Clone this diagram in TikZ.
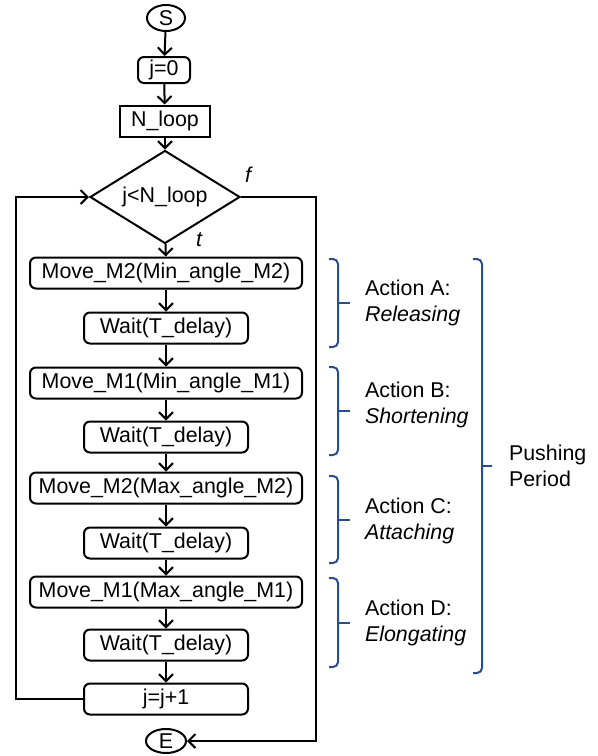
\documentclass[tikz,border=0pt]{standalone}
\usepackage{fontspec}
\setmainfont{Liberation Sans}
\usetikzlibrary{shapes.geometric,arrows.meta}

\definecolor{braceblue}{RGB}{38,79,140}

% bracket beside a group of steps: x of the bar, top, bottom, length of the tip
\newcommand{\grpbrace}[4]{%
  \draw [braceblue,line width=1pt,rounded corners=2.5pt] (#1-9,#2) -- (#1,#2) -- (#1,#3) -- (#1-9,#3);
  \draw [braceblue,line width=1pt] (#1,{(#2+#3)/2}) -- (#1+#4,{(#2+#3)/2});}

\begin{document}
\begin{tikzpicture}[x=0.5pt,y=-0.5pt,
  every node/.style={font=\fontsize{10.7}{13}\selectfont},
  proc/.style={draw,line width=1pt,rounded corners=3pt,inner sep=0pt,minimum height=15.5pt},
  term/.style={draw,line width=1pt,ellipse,inner sep=0pt,minimum width=19pt,minimum height=13pt},
  flow/.style={line width=1pt,-{Straight Barb[length=3.5pt,width=7pt]}}]
  \useasboundingbox (0,0) rectangle (598,756);
  % flow chart
  \node [term] (s) at (166,18) {S};
  \node [proc,minimum width=26pt,minimum height=13pt] (j0) at (164,70) {j=0};
  \node [draw,line width=1pt,inner sep=0pt,minimum width=45pt,minimum height=15.5pt] (nloop) at (165,121) {N\_loop};
  \node [draw,line width=1pt,diamond,aspect=1.6,inner sep=0pt,minimum width=75pt,minimum height=46.5pt] (cond) at (165,197) {j<N\_loop};
  \node [proc,minimum width=136pt] (m2min) at (166,273) {Move\_M2(Min\_angle\_M2)};
  \node [proc,minimum width=82pt] (w1) at (166,328) {Wait(T\_delay)};
  \node [proc,minimum width=136pt] (m1min) at (166,383) {Move\_M1(Min\_angle\_M1)};
  \node [proc,minimum width=82pt] (w2) at (166,437) {Wait(T\_delay)};
  \node [proc,minimum width=136pt] (m2max) at (166,488) {Move\_M2(Max\_angle\_M2)};
  \node [proc,minimum width=82pt] (w3) at (166,543) {Wait(T\_delay)};
  \node [proc,minimum width=136pt] (m1max) at (166,592) {Move\_M1(Max\_angle\_M1)};
  \node [proc,minimum width=82pt] (w4) at (166,645) {Wait(T\_delay)};
  \node [proc,minimum width=82pt] (jinc) at (166,699) {j=j+1};
  \node [term,minimum width=20pt,minimum height=12pt] (e) at (166,741) {E};
  \node (f) at (248,175) {\itshape f};
  \node (t) at (199,240) {\itshape t};
  % connectors
  \draw [flow] (s) -- (j0);
  \draw [flow] (j0) -- (nloop);
  \draw [flow] (nloop) -- (cond);
  \draw [flow] (cond) -- (m2min);
  \draw [flow] (m2min) -- (w1);
  \draw [flow] (w1) -- (m1min);
  \draw [flow] (m1min) -- (w2);
  \draw [flow] (w2) -- (m2max);
  \draw [flow] (m2max) -- (w3);
  \draw [flow] (w3) -- (m1max);
  \draw [flow] (m1max) -- (w4);
  \draw [flow] (w4) -- (jinc);
  \draw [flow] (jinc.west) -- ++(-67,0) |- (cond.west);
  \draw [flow] (cond.east) -- ++(75,0) |- (e.east);
  % actions
  \grpbrace{338}{259}{347}{12}
  \grpbrace{338}{367}{455}{12}
  \grpbrace{338}{476}{563}{12}
  \grpbrace{338}{578}{667}{12}
  \grpbrace{482}{259}{673}{10}
  \node [anchor=west,align=left] (acta) at (358,303) {Action A:\\\itshape Releasing};
  \node [anchor=west,align=left] (actb) at (358,405) {Action B:\\\itshape Shortening};
  \node [anchor=west,align=left] (actc) at (358,521) {Action C:\\\itshape Attaching};
  \node [anchor=west,align=left] (actd) at (358,623) {Action D:\\\itshape Elongating};
  \node [anchor=west,align=left] (push) at (502,466) {Pushing\\Period};
\end{tikzpicture}
\end{document}
